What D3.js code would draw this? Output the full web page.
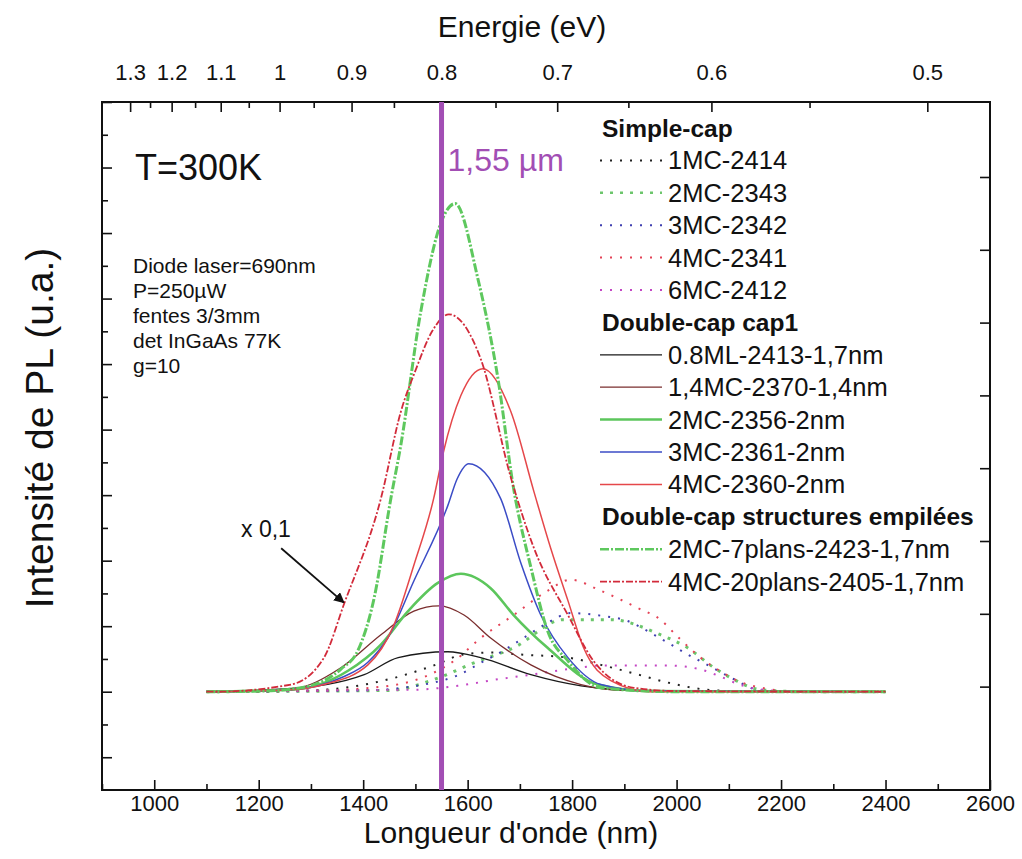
<!DOCTYPE html>
<html>
<head>
<meta charset="utf-8">
<script src="https://cdn.jsdelivr.net/npm/d3@7"></script>
<style>
	body { margin: 0; background: #fff; }
	text { font-family: "Liberation Sans", Arial, sans-serif; fill: #111; }
</style>
</head>
<body>
<div id="chart-area"></div>
<script>
/* Data : [wavelength nm, PL intensity a.u.] */

// Simple-cap
const pl_1MC_2414 = [[1100,0],[1300,0.02],[1459,0.21],[1535,0.40],[1593,0.57],[1650,0.60],[1696,0.57],[1792,0.52],[1855,0.41],[1918,0.28],[1983,0.14],[2059,0.03],[2150,0],[2400,0]]
const pl_2MC_2343 = [[1100,0],[1450,0.02],[1540,0.2],[1612,0.44],[1688,0.67],[1784,1.10],[1874,1.10],[1969,0.87],[2021,0.67],[2071,0.37],[2109,0.19],[2161,0.03],[2250,0],[2400,0]]
const pl_3MC_2342 = [[1100,0],[1400,0.02],[1535,0.14],[1581,0.25],[1625,0.44],[1669,0.63],[1707,0.82],[1753,1.05],[1797,1.20],[1855,1.16],[1906,1.08],[1950,0.90],[1983,0.75],[2021,0.57],[2059,0.41],[2103,0.22],[2161,0.02],[2237,0],[2400,0]]
const pl_4MC_2341 = [[1100,0],[1333,0.02],[1400,0.05],[1497,0.17],[1535,0.29],[1574,0.47],[1625,0.82],[1688,1.17],[1753,1.54],[1797,1.71],[1855,1.54],[1925,1.28],[1969,1.10],[2002,0.84],[2046,0.52],[2078,0.34],[2136,0.11],[2237,0],[2400,0]]
const pl_6MC_2412 = [[1100,0],[1333,0.02],[1497,0.03],[1581,0.09],[1658,0.19],[1721,0.26],[1817,0.37],[1855,0.40],[1983,0.40],[2046,0.34],[2078,0.25],[2128,0.09],[2200,0.01],[2400,0]]

// Double-cap cap1
const pl_08ML_2413 = [[1100,0],[1262,0.05],[1402,0.26],[1467,0.52],[1562,0.61],[1625,0.52],[1721,0.26],[1817,0.09],[1950,0.01],[2400,0]]
const pl_14MC_2370 = [[1100,0],[1262,0.04],[1358,0.37],[1434,0.87],[1497,1.23],[1545,1.31],[1593,1.17],[1644,0.82],[1721,0.41],[1817,0.11],[1900,0.02],[2400,0]]
const pl_2MC_2356 = [[1100,0],[1262,0.03],[1371,0.32],[1434,0.72],[1486,1.23],[1543,1.66],[1587,1.80],[1644,1.58],[1688,1.17],[1753,0.67],[1849,0.11],[1950,0.01],[2400,0]]
const pl_3MC_2361 = [[1100,0],[1262,0.03],[1360,0.22],[1409,0.45],[1447,0.82],[1497,1.69],[1562,2.84],[1580,3.25],[1602,3.48],[1663,2.95],[1702,1.96],[1740,1.17],[1792,0.52],[1855,0.11],[1950,0.01],[2400,0]]
const pl_4MC_2360 = [[1100,0],[1262,0.03],[1325,0.11],[1409,0.41],[1459,1.02],[1497,1.93],[1535,2.95],[1554,3.67],[1587,4.52],[1629,4.93],[1683,4.27],[1727,3.05],[1759,2.19],[1792,1.39],[1822,0.67],[1874,0.17],[1950,0],[2400,0]]

// Double-cap structures empilees (x 0,1)
const pl_2MC_7plans = [[1100,0],[1200,0.01],[1262,0.04],[1325,0.17],[1358,0.35],[1390,0.63],[1421,1.43],[1453,2.95],[1472,3.76],[1510,5.79],[1549,7.16],[1576,7.45],[1620,6.29],[1658,4.78],[1688,3.10],[1721,1.90],[1753,0.93],[1792,0.47],[1855,0.06],[2000,0],[2400,0]]
const pl_4MC_20plans = [[1100,0],[1115,0],[1262,0.11],[1325,0.52],[1363,1.33],[1434,2.95],[1472,4.27],[1500,4.9],[1532,5.5],[1564,5.76],[1625,5.08],[1683,3.26],[1727,2.19],[1792,1.17],[1841,0.47],[1918,0.06],[2000,0.01],[2400,0]]

const simpleCapNames = ['1MC-2414', '2MC-2343', '3MC-2342', '4MC-2341', '6MC-2412']
const cap1Names = ['0.8ML-2413-1,7nm', '1,4MC-2370-1,4nm', '2MC-2356-2nm', '3MC-2361-2nm', '4MC-2360-2nm']
const stackNames = ['2MC-7plans-2423-1,7nm', '4MC-20plans-2405-1,7nm']

const wavelengthTicks = [1000, 1200, 1400, 1600, 1800, 2000, 2200, 2400, 2600]
const wavelengthMinor = [900, 1100, 1300, 1500, 1700, 1900, 2100, 2300, 2500]
const energyTicks = [1.3, 1.2, 1.1, 1.0, 0.9, 0.8, 0.7, 0.6, 0.5]
const energyMinor = [1.25, 1.15, 1.05, 0.95, 0.85, 0.75, 0.65, 0.55]
const telecomWavelength = 1550

/* Series table + styles */
const seriesData = {
	'1MC-2414': pl_1MC_2414, '2MC-2343': pl_2MC_2343, '3MC-2342': pl_3MC_2342,
	'4MC-2341': pl_4MC_2341, '6MC-2412': pl_6MC_2412,
	'0.8ML-2413-1,7nm': pl_08ML_2413, '1,4MC-2370-1,4nm': pl_14MC_2370, '2MC-2356-2nm': pl_2MC_2356,
	'3MC-2361-2nm': pl_3MC_2361, '4MC-2360-2nm': pl_4MC_2360,
	'2MC-7plans-2423-1,7nm': pl_2MC_7plans, '4MC-20plans-2405-1,7nm': pl_4MC_20plans
}
const styles = {
	'1MC-2414': { color: '#222', width: 2, dash: '2 8' },
	'2MC-2343': { color: '#6cc66c', width: 3, dash: '3 7' },
	'3MC-2342': { color: '#3f3fb0', width: 2, dash: '2 8' },
	'4MC-2341': { color: '#e44256', width: 2, dash: '2 8' },
	'6MC-2412': { color: '#c446c4', width: 2, dash: '2 8' },
	'0.8ML-2413-1,7nm': { color: '#1a1a1a', width: 1.3, dash: null },
	'1,4MC-2370-1,4nm': { color: '#7a2e2e', width: 1.3, dash: null },
	'2MC-2356-2nm': { color: '#5cc65c', width: 2.6, dash: null },
	'3MC-2361-2nm': { color: '#3b4cc6', width: 1.5, dash: null },
	'4MC-2360-2nm': { color: '#e5474a', width: 1.5, dash: null },
	'2MC-7plans-2423-1,7nm': { color: '#5ec85e', width: 3, dash: '9 2 2 2' },
	'4MC-20plans-2405-1,7nm': { color: '#d22a3a', width: 1.8, dash: '7 2 2 2' }
}

/* Canvas */
const CANVAS_WIDTH = 1022
const CANVAS_HEIGHT = 859
const frame = { left: 102, right: 990, top: 102, bottom: 790 }

const $svg = d3.select('#chart-area')
	.append('svg')
	.attr('width', CANVAS_WIDTH)
	.attr('height', CANVAS_HEIGHT)

/* Scales */
const xScale = d3.scaleLinear().domain([900, 2600]).range([frame.left, frame.right])
const yScale = d3.scaleLinear().domain([-1.5, 9]).range([frame.bottom, frame.top])
const yRightScale = d3.scaleLinear().domain([-1.42, 8.03]).range([frame.bottom, frame.top])

$svg.append('clipPath').attr('id', 'plot-clip')
	.append('rect')
	.attr('x', frame.left).attr('y', frame.top)
	.attr('width', frame.right - frame.left)
	.attr('height', frame.bottom - frame.top)

/* Axes */
function styleAxis($g) {
	$g.select('.domain').remove()
	$g.selectAll('line').attr('stroke', '#111').attr('stroke-width', 1.6)
	$g.selectAll('text').attr('font-size', 22).attr('fill', '#111')
		.attr('font-family', '"Liberation Sans", Arial, sans-serif')
}

// bottom: wavelength
$svg.append('g')
	.attr('transform', `translate(0, ${frame.bottom})`)
	.call(d3.axisBottom(xScale).tickValues(wavelengthTicks).tickSize(-10).tickPadding(5).tickFormat(d3.format('d')))
	.call(styleAxis)
$svg.append('g')
	.attr('transform', `translate(0, ${frame.bottom})`)
	.call(d3.axisBottom(xScale).tickValues(wavelengthMinor).tickSize(-6).tickFormat(''))
	.call(styleAxis)

// top: energy, placed at lambda = 1240 / E
const toWl = e => 1240 / e
$svg.append('g')
	.attr('transform', `translate(0, ${frame.top})`)
	.call(d3.axisTop(xScale).tickValues(energyTicks.map(toWl)).tickSize(-10).tickPadding(22)
		.tickFormat(d => d3.format('~g')(Math.round(1240 / d * 100) / 100)))
	.call(styleAxis)
$svg.append('g')
	.attr('transform', `translate(0, ${frame.top})`)
	.call(d3.axisTop(xScale).tickValues(energyMinor.map(toWl)).tickSize(-6).tickFormat(''))
	.call(styleAxis)

// left: intensity (no labels)
$svg.append('g')
	.attr('transform', `translate(${frame.left}, 0)`)
	.call(d3.axisLeft(yScale).tickValues(d3.range(-1, 9.01, 1)).tickSize(-10).tickFormat(''))
	.call(styleAxis)
$svg.append('g')
	.attr('transform', `translate(${frame.left}, 0)`)
	.call(d3.axisLeft(yScale).tickValues(d3.range(-0.5, 9, 1)).tickSize(-6).tickFormat(''))
	.call(styleAxis)

// right: second intensity axis (ticks only)
$svg.append('g')
	.attr('transform', `translate(${frame.right}, 0)`)
	.call(d3.axisRight(yRightScale).tickValues(d3.range(0, 8, 1)).tickSize(-10).tickFormat(''))
	.call(styleAxis)

// frame
$svg.append('rect')
	.attr('x', frame.left).attr('y', frame.top)
	.attr('width', frame.right - frame.left)
	.attr('height', frame.bottom - frame.top)
	.attr('fill', 'none').attr('stroke', '#111').attr('stroke-width', 2)

/* Axis titles */
$svg.append('text')
	.attr('x', 522).attr('y', 37)
	.attr('text-anchor', 'middle').attr('font-size', 30)
	.text('Energie (eV)')

$svg.append('text')
	.attr('x', 511).attr('y', 843)
	.attr('text-anchor', 'middle').attr('font-size', 30)
	.text("Longueur d'onde (nm)")

$svg.append('text')
	.attr('transform', 'translate(53, 428) rotate(-90)')
	.attr('text-anchor', 'middle').attr('font-size', 39)
	.text('Intensité de PL (u.a.)')

/* Curves */
const line = d3.line()
	.x(d => xScale(d[0]))
	.y(d => yScale(d[1]))
	.curve(d3.curveMonotoneX)

const allNames = [...simpleCapNames, ...cap1Names, ...stackNames]
$svg.append('g')
	.attr('clip-path', 'url(#plot-clip)')
	.selectAll('path')
	.data(allNames)
	.enter()
	.append('path')
	.attr('d', d => line(seriesData[d]))
	.attr('fill', 'none')
	.attr('stroke', d => styles[d].color)
	.attr('stroke-width', d => styles[d].width)
	.attr('stroke-dasharray', d => styles[d].dash)

/* 1,55 um marker */
$svg.append('line')
	.attr('x1', xScale(telecomWavelength)).attr('x2', xScale(telecomWavelength))
	.attr('y1', frame.top).attr('y2', frame.bottom)
	.attr('stroke', '#a24eb4').attr('stroke-width', 5)
$svg.append('text')
	.attr('x', xScale(telecomWavelength) + 6).attr('y', 171)
	.attr('font-size', 32).style('fill', '#a24eb4')
	.text('1,55 µm')

/* Annotations */
$svg.append('text').attr('x', 135).attr('y', 180).attr('font-size', 36).text('T=300K')
const notes = ['Diode laser=690nm', 'P=250µW', 'fentes 3/3mm', 'det InGaAs 77K', 'g=10']
$svg.append('g').selectAll('text')
	.data(notes).enter().append('text')
	.attr('x', 133).attr('y', (d, i) => 273 + i * 25)
	.attr('font-size', 21)
	.text(d => d)

$svg.append('defs').append('marker')
	.attr('id', 'arrow').attr('viewBox', '0 0 10 10')
	.attr('refX', 9).attr('refY', 5)
	.attr('markerWidth', 6).attr('markerHeight', 6)
	.attr('orient', 'auto')
	.append('path').attr('d', 'M0,0 L10,5 L0,10 z').attr('fill', '#111')
$svg.append('text').attr('x', 241).attr('y', 537).attr('font-size', 23).text('x 0,1')
$svg.append('line')
	.attr('x1', xScale(1243)).attr('y1', yScale(2.19))
	.attr('x2', xScale(1363)).attr('y2', yScale(1.36))
	.attr('stroke', '#111').attr('stroke-width', 1.8)
	.attr('marker-end', 'url(#arrow)')

/* Legend */
const legendRows = [
	{ head: 'Simple-cap' }, ...simpleCapNames.map(n => ({ name: n })),
	{ head: 'Double-cap cap1' }, ...cap1Names.map(n => ({ name: n })),
	{ head: 'Double-cap structures empilées' }, ...stackNames.map(n => ({ name: n }))
]
const $legend = $svg.append('g').attr('transform', 'translate(600, 128)')
const $rows = $legend.selectAll('g')
	.data(legendRows).enter().append('g')
	.attr('transform', (d, i) => `translate(0, ${i * 32.4})`)

$rows.filter(d => d.head).append('text')
	.attr('x', 2).attr('dy', '0.35em')
	.attr('font-size', 24.5).attr('font-weight', 'bold')
	.text(d => d.head)

$rows.filter(d => d.name).append('line')
	.attr('x1', 0).attr('x2', 62)
	.attr('stroke', d => styles[d.name].color)
	.attr('stroke-width', d => Math.min(styles[d.name].width, 2.5))
	.attr('stroke-dasharray', d => styles[d.name].dash)

$rows.filter(d => d.name).append('text')
	.attr('x', 68).attr('dy', '0.35em')
	.attr('font-size', 25.5)
	.text(d => d.name)
</script>
</body>
</html>
